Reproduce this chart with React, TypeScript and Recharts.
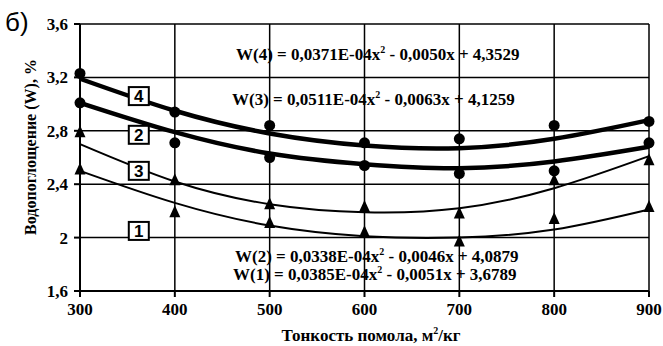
import { LineChart, Line, XAxis, YAxis, CartesianGrid, ReferenceDot } from "recharts";

const fineness = [300, 400, 500, 600, 700, 800, 900];
const yTicks = [1.6, 2, 2.4, 2.8, 3.2, 3.6];

// measured points
const points4 = [3.23, 2.94, 2.84, 2.71, 2.74, 2.84, 2.87];
const points2 = [3.01, 2.71, 2.6, 2.54, 2.48, 2.5, 2.71];
const points3 = [2.79, 2.43, 2.25, 2.23, 2.18, 2.43, 2.58];
const points1 = [2.51, 2.19, 2.11, 2.04, 1.97, 2.14, 2.23];

// trend curves
const trend4 = [3.19, 2.95, 2.78, 2.69, 2.67, 2.74, 2.88];
const trend2 = [3.01, 2.79, 2.63, 2.55, 2.52, 2.57, 2.68];
const trend3 = [2.7, 2.42, 2.25, 2.19, 2.22, 2.37, 2.61];
const trend1 = [2.5, 2.26, 2.09, 2.01, 2.0, 2.06, 2.21];

const seriesTags = ["4", "2", "3", "1"];
const tagX = [362, 362, 362, 362];
const tagY = [3.06, 2.77, 2.5, 2.05];

const data = fineness.map((x, i) => ({
  x,
  t1: trend1[i],
  t2: trend2[i],
  t3: trend3[i],
  t4: trend4[i],
  p1: points1[i],
  p2: points2[i],
  p3: points3[i],
  p4: points4[i],
}));

const serif = "'Liberation Serif', 'Times New Roman', serif";
const tickStyle = { fontSize: 17, fontWeight: 700, fill: "#000", fontFamily: serif };

const circleDot = (p: any) => <circle key={`c${p.index}-${p.dataKey}`} cx={p.cx} cy={p.cy} r={5.5} fill="#000" />;
const triDot = (p: any) => (
  <path
    key={`t${p.index}-${p.dataKey}`}
    d={`M${p.cx},${p.cy - 7} L${p.cx + 5.5},${p.cy + 5} L${p.cx - 5.5},${p.cy + 5} Z`}
    fill="#000"
  />
);

const tagShape = (label: string) => (p: any) => (
  <g>
    <rect x={p.cx - 10} y={p.cy - 9} width={20} height={18} fill="#fff" stroke="#000" strokeWidth={2} />
    <text x={p.cx} y={p.cy + 6} textAnchor="middle" fontFamily="'Liberation Sans', Arial, sans-serif" fontWeight={700} fontSize={17} fill="#000">
      {label}
    </text>
  </g>
);

const comma = (v: number) => String(v).replace(".", ",");

const Eq = ({ x, y, name, a, b, c, sign }: { x: number; y: number; name: string; a: string; b: string; c: string; sign: string }) => (
  <text x={x} y={y} fontFamily={serif} fontWeight={700} fontSize={17} fill="#000">
    {`W(${name}) = ${a}E-04x`}
    <tspan dy={-7} fontSize={10}>2</tspan>
    <tspan dy={7}>{` - ${b}x ${sign} ${c}`}</tspan>
  </text>
);

export default function App() {
  return (
    <div style={{ position: "absolute", left: 0, top: 0, width: 663, height: 346, background: "#fff" }}>
      <LineChart width={663} height={346} data={data} margin={{ top: 24, right: 14, bottom: 0, left: 0 }}>
        <CartesianGrid stroke="#000" strokeWidth={1.5} />
        <XAxis
          dataKey="x"
          type="number"
          domain={[300, 900]}
          ticks={fineness}
          height={55}
          tick={tickStyle}
          tickSize={6}
          tickMargin={6}
          stroke="#000"
          strokeWidth={2}
        />
        <YAxis
          type="number"
          domain={[1.6, 3.6]}
          ticks={yTicks}
          width={80}
          tick={tickStyle}
          tickSize={6}
          tickMargin={6}
          tickFormatter={comma}
          stroke="#000"
          strokeWidth={2}
        />
        <Line type="natural" dataKey="t4" stroke="#000" strokeWidth={4.5} dot={false} activeDot={false} isAnimationActive={false} />
        <Line type="natural" dataKey="t2" stroke="#000" strokeWidth={4.5} dot={false} activeDot={false} isAnimationActive={false} />
        <Line type="natural" dataKey="t3" stroke="#000" strokeWidth={2} dot={false} activeDot={false} isAnimationActive={false} />
        <Line type="natural" dataKey="t1" stroke="#000" strokeWidth={2} dot={false} activeDot={false} isAnimationActive={false} />
        <Line dataKey="p4" stroke="none" dot={circleDot} activeDot={false} isAnimationActive={false} />
        <Line dataKey="p2" stroke="none" dot={circleDot} activeDot={false} isAnimationActive={false} />
        <Line dataKey="p3" stroke="none" dot={triDot} activeDot={false} isAnimationActive={false} />
        <Line dataKey="p1" stroke="none" dot={triDot} activeDot={false} isAnimationActive={false} />
        {seriesTags.map((s, i) => (
          <ReferenceDot key={s} x={tagX[i]} y={tagY[i]} r={10} shape={tagShape(s)} />
        ))}
      </LineChart>
      <svg width={663} height={346} style={{ position: "absolute", left: 0, top: 0, pointerEvents: "none" }}>
        <text x={5} y={31} fontFamily="'Liberation Sans', Arial, sans-serif" fontSize={26} fill="#000">б)</text>
        <Eq x={236} y={60} name="4" a="0,0371" b="0,0050" sign="+" c="4,3529" />
        <Eq x={232} y={105} name="3" a="0,0511" b="0,0063" sign="+" c="4,1259" />
        <Eq x={235} y={262} name="2" a="0,0338" b="0,0046" sign="+" c="4,0879" />
        <Eq x={233} y={280} name="1" a="0,0385" b="0,0051" sign="+" c="3,6789" />
        <text x={371} y={341} textAnchor="middle" fontFamily={serif} fontWeight={700} fontSize={17} fill="#000">
          Тонкость помола, м<tspan dy={-7} fontSize={10}>2</tspan><tspan dy={7}>/кг</tspan>
        </text>
        <text
          x={0}
          y={0}
          transform="translate(36,147) rotate(-90)"
          textAnchor="middle"
          fontFamily={serif}
          fontWeight={700}
          fontSize={16}
          fill="#000"
        >
          Водопоглощение (W), %
        </text>
      </svg>
    </div>
  );
}
